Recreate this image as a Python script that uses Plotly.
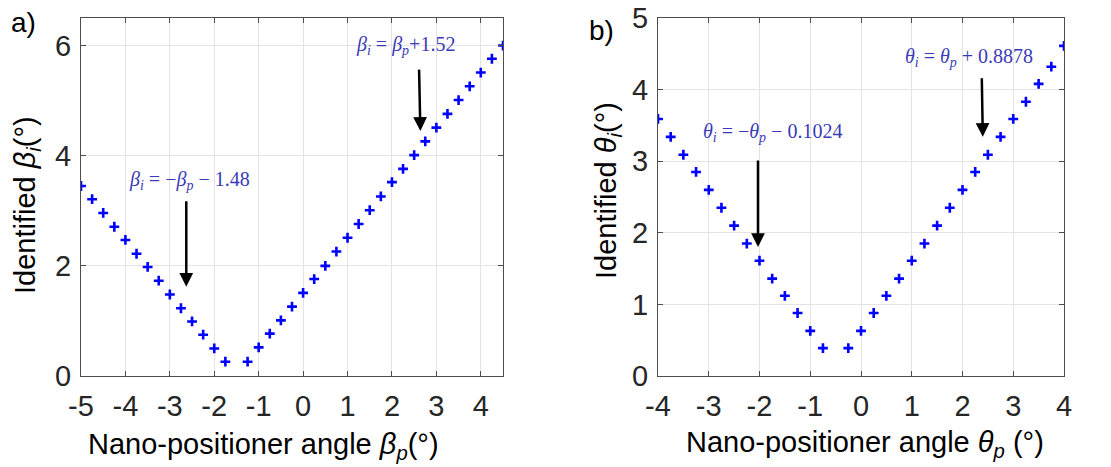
import plotly.graph_objects as go

# ---- data: panel a ----
beta_p = [-5, -4.75, -4.5, -4.25, -4, -3.75, -3.5, -3.25, -3, -2.75, -2.5, -2.25, -2, -1.75,
          -1.25, -1, -0.75, -0.5, -0.25, 0, 0.25, 0.5, 0.75, 1, 1.25, 1.5, 1.75, 2, 2.25,
          2.5, 2.75, 3, 3.25, 3.5, 3.75, 4, 4.25, 4.5]
beta_i = [3.45, 3.21, 2.96, 2.71, 2.47, 2.22, 1.98, 1.73, 1.48, 1.23, 0.99, 0.75, 0.50, 0.26,
          0.26, 0.52, 0.77, 1.01, 1.26, 1.51, 1.76, 2.00, 2.26, 2.51, 2.76, 3.01, 3.26, 3.52, 3.76,
          4.01, 4.26, 4.51, 4.76, 5.01, 5.26, 5.51, 5.76, 6.00]

# ---- data: panel b ----
theta_p = [-4, -3.75, -3.5, -3.25, -3, -2.75, -2.5, -2.25, -2, -1.75, -1.5, -1.25, -1, -0.75,
           -0.25, 0, 0.25, 0.5, 0.75, 1, 1.25, 1.5, 1.75, 2, 2.25, 2.5, 2.75, 3, 3.25, 3.5,
           3.75, 4]
theta_i = [3.59, 3.34, 3.09, 2.85, 2.60, 2.35, 2.10, 1.85, 1.61, 1.36, 1.12, 0.88, 0.63, 0.39,
           0.39, 0.63, 0.88, 1.12, 1.36, 1.61, 1.85, 2.10, 2.35, 2.60, 2.85, 3.09, 3.34, 3.59,
           3.83, 4.08, 4.32, 4.61]

xticks_a = [-5, -4, -3, -2, -1, 0, 1, 2, 3, 4]
xlabels_a = ["-5", "-4", "-3", "-2", "-1", "0", "1", "2", "3", "4"]
yticks_a = [0, 2, 4, 6]
xticks_b = [-4, -3, -2, -1, 0, 1, 2, 3, 4]
xlabels_b = ["-4", "-3", "-2", "-1", "0", "1", "2", "3", "4"]
yticks_b = [0, 1, 2, 3, 4, 5]

W, H = 1111, 467
AX = "#262626"
GRID = "#e3e3e3"
FONT = "Liberation Sans, Arial, sans-serif"
EQ = "#3a3ab8"
TICKSIZE = 29
TITLESIZE = 29

fig = go.Figure()
marker = dict(symbol="cross-thin", size=7, color="#0000ff", line=dict(width=2.6, color="#0000ff"))
fig.add_trace(go.Scatter(x=beta_p, y=beta_i, mode="markers", marker=marker,
                         xaxis="x", yaxis="y", showlegend=False))
fig.add_trace(go.Scatter(x=theta_p, y=theta_i, mode="markers", marker=marker,
                         xaxis="x2", yaxis="y2", showlegend=False))

ydom = [1 - 376 / H, 1 - 18 / H]
common = dict(showgrid=True, gridcolor=GRID, gridwidth=1, zeroline=False, automargin=False,
              showline=True, linecolor="#4d4d4d", linewidth=1, mirror="ticks",
              ticks="inside", ticklen=5, tickcolor="#4d4d4d",
              tickfont=dict(family=FONT, size=TICKSIZE, color=AX))
tfont = dict(family=FONT, size=TITLESIZE, color="black")

fig.update_layout(
    width=W, height=H, margin=dict(l=0, r=0, t=0, b=0),
    plot_bgcolor="white", paper_bgcolor="white",
    xaxis=dict(domain=[81 / W, 503 / W], range=[-5, 4.5], tickvals=xticks_a, ticktext=xlabels_a,
               anchor="y", ticklabelstandoff=4, **common),
    yaxis=dict(domain=ydom, range=[0, 6.5], tickvals=yticks_a, anchor="x",
               ticklabelstandoff=3, **common),
    xaxis2=dict(domain=[658 / W, 1064 / W], range=[-4, 4], tickvals=xticks_b, ticktext=xlabels_b,
                anchor="y2", ticklabelstandoff=4, **common),
    yaxis2=dict(domain=ydom, range=[0, 5], tickvals=yticks_b, anchor="x2",
                ticklabelstandoff=3, **common),
)

eqfont = dict(family="Liberation Serif, DejaVu Serif, serif", size=20, color=EQ)
anns = [
    dict(x=-2.55, y=3.55, xref="x", yref="y", text="<i>β<sub>i</sub></i> = −<i>β<sub>p</sub></i> − 1.48",
         showarrow=False, font=eqfont),
    dict(x=2.3, y=6.0, xref="x", yref="y", text="<i>β<sub>i</sub></i> = <i>β<sub>p</sub></i>+1.52",
         showarrow=False, font=eqfont),
    dict(x=-1.75, y=3.4, xref="x2", yref="y2", text="<i>θ<sub>i</sub></i> = −<i>θ<sub>p</sub></i> − 0.1024",
         showarrow=False, font=eqfont),
    dict(x=2.12, y=4.45, xref="x2", yref="y2", text="<i>θ<sub>i</sub></i> = <i>θ<sub>p</sub></i> + 0.8878",
         showarrow=False, font=eqfont),
]
arrows = [
    ("x", "y", -2.63, 3.2, -2.63, 1.62),
    ("x", "y", 2.61, 5.59, 2.64, 4.45),
    ("x2", "y2", -2.03, 3.03, -2.03, 1.80),
    ("x2", "y2", 2.38, 4.18, 2.40, 3.34),
]
for xr, yr, x0, y0, x1, y1 in arrows:
    anns.append(dict(x=x1, y=y1, ax=x0, ay=y0, xref=xr, yref=yr, axref=xr, ayref=yr,
                     text="", showarrow=True, arrowhead=2, arrowsize=1.1, arrowwidth=2.5,
                     arrowcolor="black"))

# axis titles and panel labels
def paper(xp, yp):
    return xp / W, 1 - yp / H

titles = [
    ("Nano-positioner angle <i>β<sub>p</sub></i>(°)", 263, 446, 0),
    ("Identified <i>β<sub>i</sub></i>(°)", 27, 205, -90),
    ("Nano-positioner angle <i>θ<sub>p</sub></i> (°)", 865, 444, 0),
    ("Identified <i>θ<sub>i</sub></i>(°)", 608, 191, -90),
]
for txt, xp, yp, ang in titles:
    px, py = paper(xp, yp)
    anns.append(dict(x=px, y=py, xref="paper", yref="paper", text=txt, showarrow=False,
                     textangle=ang, xanchor="center", yanchor="middle", font=tfont))

for txt, xp, yp in [("a)", 9, 22), ("b)", 587, 30)]:
    px, py = paper(xp, yp)
    anns.append(dict(x=px, y=py, xref="paper", yref="paper", text=txt, showarrow=False,
                     xanchor="left", yanchor="middle", font=dict(family=FONT, size=28, color="black")))
fig.update_layout(annotations=anns)

fig.write_html("out.html", config={"displayModeBar": False},
               post_script="document.body.style.margin='0';document.body.style.overflow='hidden';")
